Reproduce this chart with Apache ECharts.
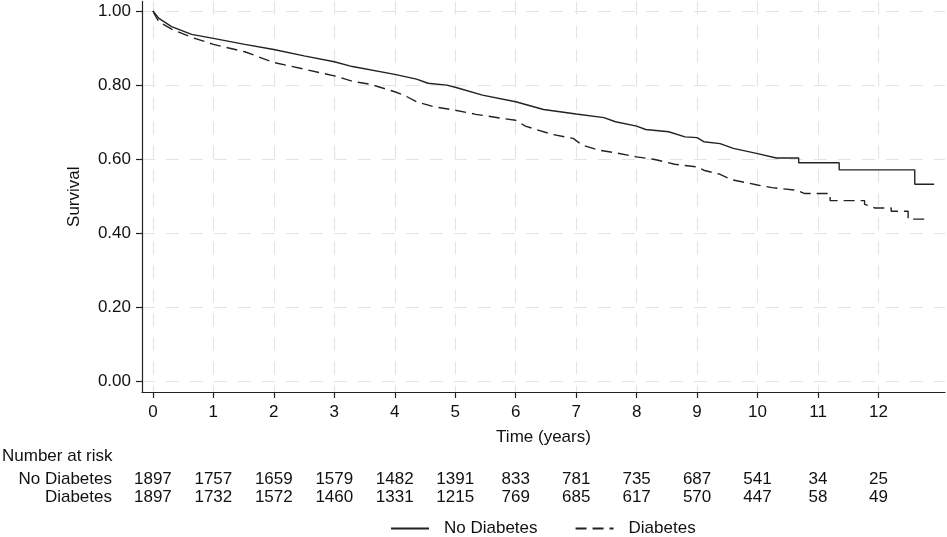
<!DOCTYPE html>
<html><head><meta charset="utf-8">
<script src="https://cdn.jsdelivr.net/npm/echarts@6/dist/echarts.min.js"></script>
<style>html,body{margin:0;padding:0;background:#fff}#c{width:947px;height:537px}</style>
</head><body><div id="c"></div>
<script>
const xTicks = [0,1,2,3,4,5,6,7,8,9,10,11,12];
const yTicks = [0,0.2,0.4,0.6,0.8,1.0];

const noDiabetesTime = [0,0.1,0.31,0.64,1.0,1.52,2.0,2.5,3.0,3.3,4.0,4.36,4.55,4.86,5.0,5.45,6.0,6.46,6.73,7.0,7.46,7.65,8.0,8.15,8.53,8.8,9.0,9.11,9.38,9.6,10.0,10.31,10.68,10.68,11.35,11.35,12.60,12.60,12.92];
const noDiabetesSurv = [1.000,0.980,0.958,0.937,0.926,0.910,0.896,0.879,0.863,0.850,0.829,0.816,0.805,0.800,0.794,0.773,0.755,0.734,0.728,0.722,0.712,0.701,0.689,0.680,0.674,0.660,0.658,0.647,0.642,0.629,0.615,0.603,0.603,0.590,0.590,0.571,0.571,0.532,0.532];

const diabetesTime = [0,0.05,0.1,0.31,0.64,1.0,1.52,2.0,2.5,3.0,3.33,3.6,4.0,4.15,4.36,4.66,5.0,5.34,5.78,6.0,6.16,6.6,6.95,7.1,7.38,7.65,8.0,8.3,8.63,9.0,9.11,9.38,9.56,10.0,10.24,10.64,10.78,11.20,11.20,11.77,11.77,11.94,12.21,12.21,12.49,12.49,12.85];
const diabetesSurv = [1.000,0.985,0.971,0.951,0.929,0.910,0.890,0.861,0.843,0.825,0.809,0.802,0.782,0.773,0.755,0.741,0.732,0.721,0.710,0.705,0.689,0.667,0.656,0.638,0.624,0.617,0.606,0.599,0.586,0.579,0.570,0.559,0.545,0.530,0.523,0.516,0.507,0.507,0.488,0.488,0.478,0.468,0.468,0.459,0.459,0.438,0.438];

const riskTitle = 'Number at risk';
const riskRowNames = ['No Diabetes','Diabetes'];
const riskNoDiabetes = [1897,1757,1659,1579,1482,1391,833,781,735,687,541,34,25];
const riskDiabetes = [1897,1732,1572,1460,1331,1215,769,685,617,570,447,58,49];

const FONT = '"Liberation Sans", Arial, sans-serif';
const zip = (a,b) => a.map((v,i)=>[v,b[i]]);

const chart = echarts.init(document.getElementById('c'), null, {renderer:'canvas'});
const gridStyle = {color:'#e4e4e4', width:1.2, type:[13,11]};
chart.setOption({
  animation:false,
  backgroundColor:'#fff',
  textStyle:{fontFamily:FONT},
  grid:{left:142, right:2, top:1.4, bottom:145, containLabel:false},
  xAxis:{
    type:'value', min:-0.18, max:13.1,
    name:'Time (years)', nameLocation:'middle', nameGap:37,
    nameTextStyle:{fontSize:17, color:'#111', fontFamily:FONT},
    axisLine:{show:true, onZero:false, lineStyle:{color:'#222', width:1.2}},
    axisTick:{show:true, length:6, customValues:xTicks, lineStyle:{color:'#222', width:1.2}},
    axisLabel:{customValues:xTicks, fontSize:17, color:'#111', margin:12, fontFamily:FONT},
    splitLine:{show:true, lineStyle:gridStyle}
  },
  yAxis:{
    type:'value', min:-0.029, max:1.026,
    name:'Survival', nameLocation:'middle', nameGap:59,
    nameTextStyle:{fontSize:17, color:'#111', fontFamily:FONT},
    axisLine:{show:true, onZero:false, lineStyle:{color:'#222', width:1.2}},
    axisTick:{show:true, length:6, customValues:yTicks, lineStyle:{color:'#222', width:1.2}},
    axisLabel:{customValues:yTicks, fontSize:17, color:'#111', margin:11, fontFamily:FONT,
      formatter:v=>v.toFixed(2)},
    splitLine:{show:true, lineStyle:gridStyle}
  },
  legend:{
    left:385, top:515, itemWidth:38, itemHeight:14, itemGap:37,
    itemStyle:{opacity:0, borderWidth:0},
    textStyle:{fontSize:17, color:'#111', fontFamily:FONT, padding:[0,0,0,10]},
    data:['No Diabetes','Diabetes']
  },
  series:[
    {name:'No Diabetes', type:'line', data:zip(noDiabetesTime,noDiabetesSurv), symbol:'none',
     lineStyle:{color:'#222', width:1.4, type:'solid'}, itemStyle:{color:'#222'}},
    {name:'Diabetes', type:'line', data:zip(diabetesTime,diabetesSurv), symbol:'none',
     lineStyle:{color:'#222', width:1.4, type:[11,6]}, itemStyle:{color:'#222'}}
  ]
});

// number-at-risk table, placed with the x-axis scale
const rowY = [479, 497];
const els = [{type:'text', left:2, top:458-10, style:{text:riskTitle, font:'17px '+FONT, fill:'#111'}}];
const rows = [riskNoDiabetes, riskDiabetes];
rows.forEach((vals, r) => {
  els.push({type:'text', x:112, y:rowY[r], style:{text:riskRowNames[r], font:'17px '+FONT, fill:'#111', textAlign:'right', textVerticalAlign:'middle'}});
  vals.forEach((v, i) => {
    const px = chart.convertToPixel({xAxisIndex:0}, xTicks[i]);
    els.push({type:'text', x:px, y:rowY[r], style:{text:String(v), font:'17px '+FONT, fill:'#111', textAlign:'center', textVerticalAlign:'middle'}});
  });
});
chart.setOption({graphic:{elements:els}});
</script></body></html>
